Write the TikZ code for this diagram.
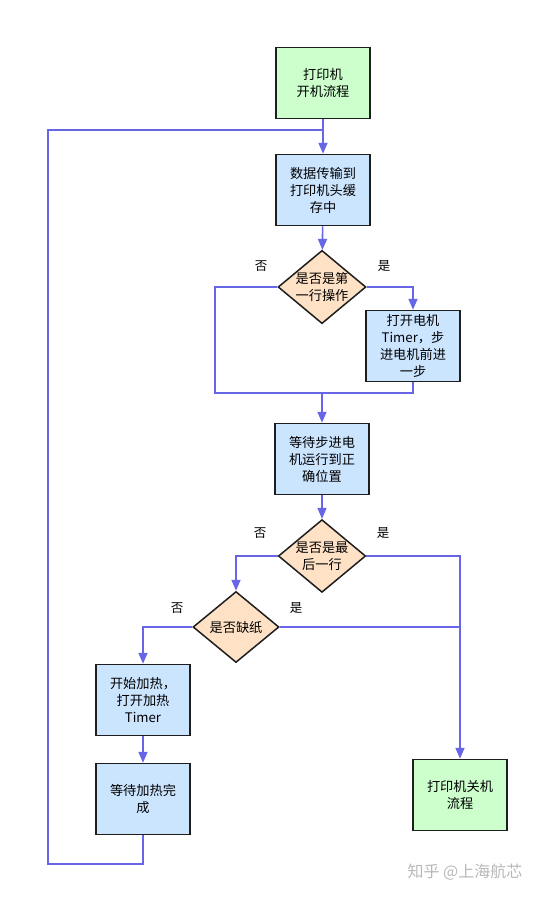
\documentclass[tikz,border=0pt]{standalone}
\usepackage{fontspec}
\setmainfont{Noto Sans CJK SC}
\usetikzlibrary{arrows.meta,shapes.geometric}
\definecolor{flowblue}{HTML}{6666E6}
\definecolor{procfill}{HTML}{CCE5FF}
\definecolor{termfill}{HTML}{CCFFCC}
\definecolor{decfill}{HTML}{FFE2C6}
\definecolor{edge}{HTML}{1E1E1E}
\tikzset{
    procbox/.style={draw=edge, line width=1.5pt, fill=procfill, minimum width=94pt, minimum height=71pt,
        inner sep=0pt, align=center, font=\fontsize{13.2}{17}\selectfont},
    termbox/.style={procbox, fill=termfill},
    decide/.style={diamond, draw=edge, line width=1.5pt, fill=decfill, aspect=1.2, inner sep=0pt,
        minimum width=86pt, minimum height=71pt, align=center, font=\fontsize{13.2}{17}\selectfont},
    link/.style={draw=flowblue, line width=1.6pt},
    flow/.style={link, -{Triangle[length=11pt,width=9pt]}},
    answer/.style={font=\fontsize{12.5}{14}\selectfont}
}
\begin{document}
\begin{tikzpicture}[x=1pt,y=-1pt]
        \useasboundingbox (0,0) rectangle (538,897);

        \node[termbox] (start) at (323,83) {打印机\\开机流程};
        \node[procbox] (load) at (323,190) {数据传输到\\打印机头缓\\存中};
        \node[decide] (first) at (322,287) {是否是第\\一行操作};
        \node[procbox] (motor) at (413,346) {打开电机\\Timer，步\\进电机前进\\一步};
        \node[procbox] (waitpos) at (322,459) {等待步进电\\机运行到正\\确位置};
        \node[decide] (last) at (322,556) {是否是最\\后一行};
        \node[decide] (paper) at (236,627) {是否缺纸};
        \node[procbox] (heat) at (143,700) {开始加热，\\打开加热\\Timer};
        \node[procbox] (heatwait) at (143,799) {等待加热完\\成};
        \node[termbox] (stop) at (460,795) {打印机关机\\流程};

        \node[answer] (firstno) at (261,266) {否};
        \node[answer] (firstyes) at (384,266) {是};
        \node[answer] (lastno) at (260,533) {否};
        \node[answer] (lastyes) at (383,533) {是};
        \node[answer] (paperno) at (177,608) {否};
        \node[answer] (paperyes) at (296,608) {是};

        \coordinate (loopin) at (323,130);
        \coordinate (loopcorner) at (48,864);
        \coordinate (firstjoin) at (322,393);
        \coordinate (firstleft) at (215,393);

        \draw[flow] (start) -- (load);
        \draw[link] (heatwait.south) |- (loopcorner) |- (loopin);
        \draw[flow] (load) -- (first);
        \draw[flow] (first.east) -| (motor.north);
        \draw[link] (motor.south) |- (firstleft) |- (first.west);
        \draw[flow] (firstjoin) -- (waitpos);
        \draw[flow] (waitpos) -- (last);
        \draw[flow] (last.west) -| (paper.north);
        \draw[flow] (last.east) -| (stop.north);
        \draw[link] (paper.east) -- (paper.east -| stop.north);
        \draw[flow] (paper.west) -| (heat.north);
        \draw[flow] (heat) -- (heatwait);

        \node[text=black!28, font=\fontsize{16}{18}\selectfont] (mark) at (465,872) {知乎 @上海航芯};
    \end{tikzpicture}
\end{document}
